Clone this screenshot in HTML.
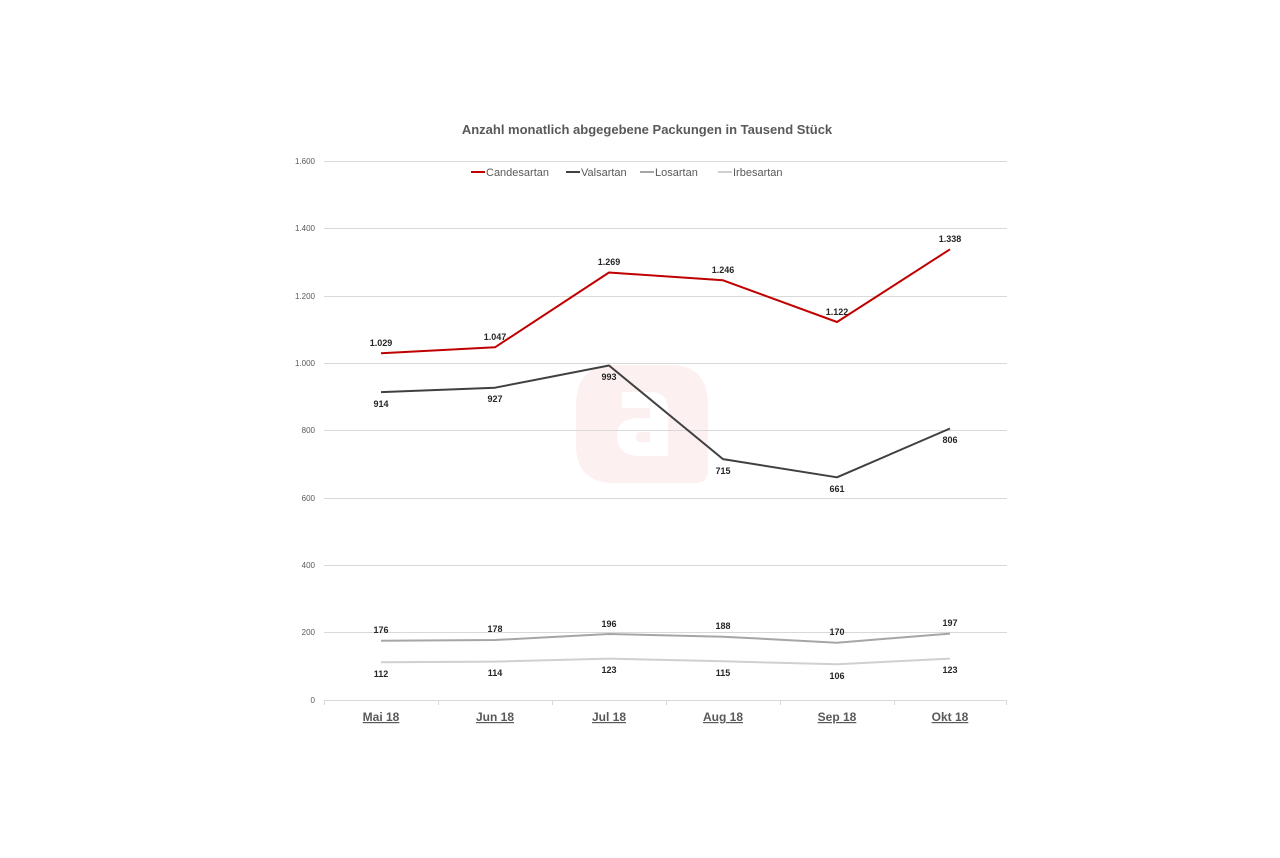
<!DOCTYPE html>
<html><head><meta charset="utf-8"><style>html,body{margin:0;padding:0;background:#fff}</style></head><body>
<svg width="1280" height="853" xmlns="http://www.w3.org/2000/svg" font-family="Liberation Sans, sans-serif">
<rect width="1280" height="853" fill="#fff"/>
<!-- watermark -->
<path d="M615 365 H670 Q708 365 708 405 V470 Q708 483 695 483 H615 Q576 483 576 445 V405 Q576 365 615 365Z" fill="#fdf0f0"/>
<path fill-rule="evenodd" d="M622 392 H650 Q668 392 668 410 V456 H640 Q617 456 617 436 Q617 418 640 418 H650 V408 H622Z M640 432 Q636 432 636 437 Q636 442 640 442 H650 V432Z" fill="#fff"/>
<g stroke="#d9d9d9" stroke-width="1">
<line x1="324" y1="161.5" x2="1007" y2="161.5"/>
<line x1="324" y1="228.5" x2="1007" y2="228.5"/>
<line x1="324" y1="296.5" x2="1007" y2="296.5"/>
<line x1="324" y1="363.5" x2="1007" y2="363.5"/>
<line x1="324" y1="430.5" x2="1007" y2="430.5"/>
<line x1="324" y1="498.5" x2="1007" y2="498.5"/>
<line x1="324" y1="565.5" x2="1007" y2="565.5"/>
<line x1="324" y1="632.5" x2="1007" y2="632.5"/>
<line x1="324" y1="700.5" x2="1007" y2="700.5"/>
<line x1="324.5" y1="700" x2="324.5" y2="705"/><line x1="438.5" y1="700" x2="438.5" y2="705"/><line x1="552.5" y1="700" x2="552.5" y2="705"/><line x1="666.5" y1="700" x2="666.5" y2="705"/><line x1="780.5" y1="700" x2="780.5" y2="705"/><line x1="894.5" y1="700" x2="894.5" y2="705"/><line x1="1006.5" y1="700" x2="1006.5" y2="705"/>
</g>
<g font-size="8" fill="#595959" text-anchor="end">
<text x="315" y="164">1.600</text><text x="315" y="231">1.400</text><text x="315" y="299">1.200</text><text x="315" y="366">1.000</text><text x="315" y="433">800</text><text x="315" y="501">600</text><text x="315" y="568">400</text><text x="315" y="635">200</text><text x="315" y="703">0</text>
</g>
<text x="647" y="134" font-size="13" font-weight="bold" fill="#595959" text-anchor="middle">Anzahl monatlich abgegebene Packungen in Tausend Stück</text>
<g font-size="11" fill="#595959">
<line x1="471" y1="172" x2="485" y2="172" stroke="#c00000" stroke-width="2"/><text x="486" y="176">Candesartan</text>
<line x1="566" y1="172" x2="580" y2="172" stroke="#404040" stroke-width="2"/><text x="581" y="176">Valsartan</text>
<line x1="640" y1="172" x2="654" y2="172" stroke="#a6a6a6" stroke-width="2"/><text x="655" y="176">Losartan</text>
<line x1="718" y1="172" x2="732" y2="172" stroke="#d0d0d0" stroke-width="2"/><text x="733" y="176">Irbesartan</text>
</g>
<g fill="none" stroke-width="2" stroke-linejoin="round">
<polyline stroke="#d0d0d0" points="381,662.3 495,661.6 609,658.6 723,661.3 837,664.3 950,658.6"/>
<polyline stroke="#a6a6a6" points="381,640.7 495,640 609,634 723,636.7 837,642.7 950,633.6"/>
<polyline stroke="#404040" points="381,392.1 495,387.7 609,365.5 723,459.1 837,477.3 950,428.5"/>
<polyline stroke="#c00000" points="381,353.3 495,347.3 609,272.5 723,280.3 837,322 950,249.3"/>
</g>
<g font-size="9" font-weight="bold" fill="#262626" text-anchor="middle">
<text x="381" y="346">1.029</text><text x="495" y="340">1.047</text><text x="609" y="265">1.269</text><text x="723" y="273">1.246</text><text x="837" y="315">1.122</text><text x="950" y="242">1.338</text>
<text x="381" y="407">914</text><text x="495" y="402">927</text><text x="609" y="380">993</text><text x="723" y="474">715</text><text x="837" y="492">661</text><text x="950" y="443">806</text>
<text x="381" y="633">176</text><text x="495" y="632">178</text><text x="609" y="627">196</text><text x="723" y="629">188</text><text x="837" y="635">170</text><text x="950" y="626">197</text>
<text x="381" y="677">112</text><text x="495" y="676">114</text><text x="609" y="673">123</text><text x="723" y="676">115</text><text x="837" y="679">106</text><text x="950" y="673">123</text>
</g>
<g font-size="12" font-weight="bold" fill="#595959" text-anchor="middle" text-decoration="underline">
<text x="381" y="721">Mai 18</text><text x="495" y="721">Jun 18</text><text x="609" y="721">Jul 18</text><text x="723" y="721">Aug 18</text><text x="837" y="721">Sep 18</text><text x="950" y="721">Okt 18</text>
</g>
</svg>
</body></html>
